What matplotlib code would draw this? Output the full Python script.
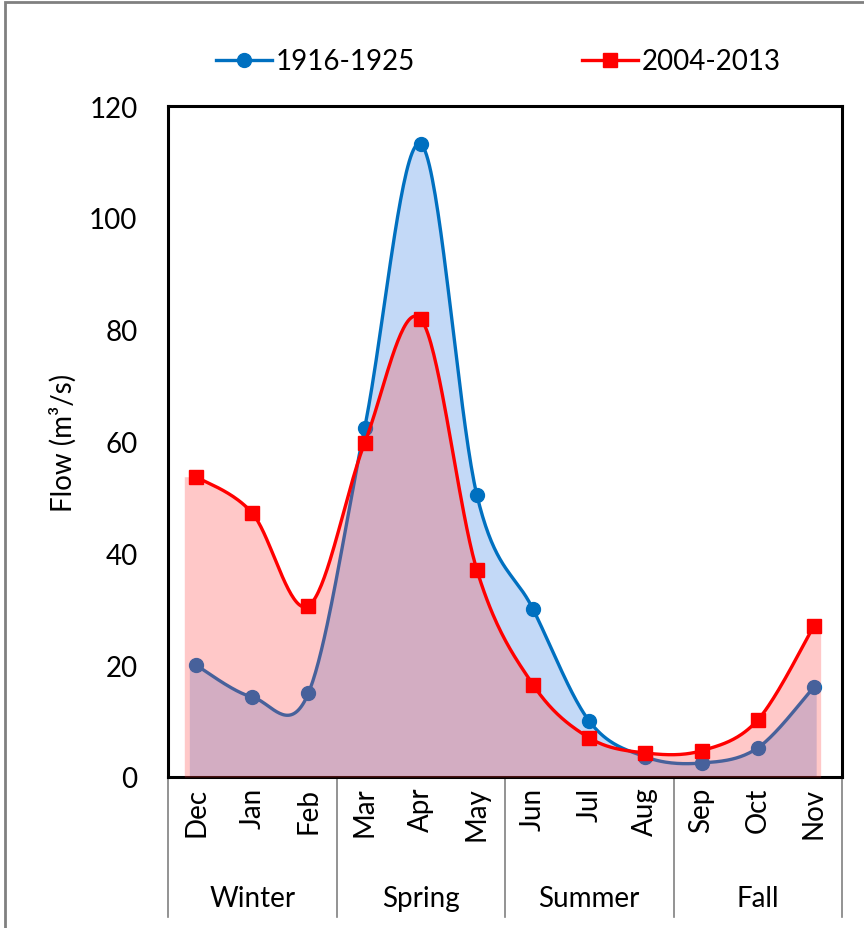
#Monthly flow, 1916-1925 vs 2004-2013
import numpy as np
import matplotlib
matplotlib.use("Agg")
import matplotlib.pyplot as plt
from matplotlib.patches import Rectangle
import matplotlib.transforms as mtransforms

plt.rcParams['font.family'] = ['Lato', 'DejaVu Sans']

months = ["Dec", "Jan", "Feb", "Mar", "Apr", "May", "Jun", "Jul", "Aug", "Sep", "Oct", "Nov"]
seasons = ["Winter", "Spring", "Summer", "Fall"]
flow_1916 = [20.0, 14.3, 15.0, 62.4, 113.2, 50.4, 30.0, 10.0, 3.6, 2.5, 5.2, 16.1]
flow_2004 = [53.7, 47.2, 30.6, 59.7, 81.9, 37.0, 16.5, 7.0, 4.3, 4.7, 10.2, 27.0]


def smooth(x, y, n=40):
    # excel style smoothed line (catmull-rom bezier)
    x = np.asarray(x, float)
    y = np.asarray(y, float)
    px = np.concatenate([[x[0]], x, [x[-1]]])
    py = np.concatenate([[y[0]], y, [y[-1]]])
    xs, ys = [], []
    t = np.linspace(0, 1, n)
    for i in range(1, len(px) - 2):
        p0 = np.array([px[i], py[i]])
        p3 = np.array([px[i + 1], py[i + 1]])
        c1 = p0 + (p3 - np.array([px[i - 1], py[i - 1]])) / 6
        c2 = p3 - (np.array([px[i + 2], py[i + 2]]) - p0) / 6
        pts = ((1 - t) ** 3)[:, None] * p0 + (3 * (1 - t) ** 2 * t)[:, None] * c1 \
            + (3 * (1 - t) * t ** 2)[:, None] * c2 + (t ** 3)[:, None] * p3
        xs.extend(pts[:, 0])
        ys.extend(pts[:, 1])
    return np.array(xs), np.array(ys)


x = np.arange(len(months))
sx1, sy1 = smooth(x, flow_1916)
sx2, sy2 = smooth(x, flow_2004)

fig = plt.figure(figsize=(8.64, 9.29), dpi=100)
fig.patches.append(Rectangle((5 / 864, -0.1), 1.2, 1.1 - 3 / 929, transform=fig.transFigure,
                             fill=False, edgecolor='#808080', linewidth=2))

ax = fig.add_axes([168 / 864, 1 - 778 / 929, 674 / 864, 671 / 929])

blue = '#0070C0'
red = '#FF0000'

# blue area, slightly past the end points
bx = np.concatenate([[-0.12], sx1, [11.04]])
by = np.concatenate([[sy1[0]], sy1, [sy1[-1]]])
ax.fill_between(bx, 0, by, color='#C3D9F7', linewidth=0, zorder=1)
ax.plot(sx1, sy1, color=blue, linewidth=2.4, zorder=2)
ax.plot(x, flow_1916, 'o', color=blue, markersize=10, zorder=2)

# red area drawn over the blue one
rx = np.concatenate([[-0.21], sx2, [11.12]])
ry = np.concatenate([[sy2[0]], sy2, [sy2[-1]]])
ax.fill_between(rx, 0, ry, color=(1.0, 0.24, 0.24), alpha=0.283, linewidth=0, zorder=3)
ax.plot(sx2, sy2, color=red, linewidth=2.4, zorder=4)
ax.plot(x, flow_2004, 's', color=red, markersize=10, zorder=4)

# legend handles
ax.plot([], [], '-o', color=blue, linewidth=2.4, markersize=10, label='1916-1925')
ax.plot([], [], '-s', color=red, linewidth=2.4, markersize=10, label='2004-2013')
fig.legend(loc='center', bbox_to_anchor=(0.577, 0.933), ncol=2, frameon=False,
           fontsize=20, handlelength=2.0, handletextpad=0.15, columnspacing=6.0)

ax.set_xlim(-0.5, 11.5)
ax.set_ylim(0, 120)
ax.set_yticks(range(0, 121, 20))
ax.tick_params(axis='y', length=0, pad=22, labelsize=20)
ax.set_xticks(x)
ax.set_xticklabels(months, rotation=90, fontsize=20)
ax.tick_params(axis='x', length=0, pad=7)
for s in ax.spines.values():
    s.set_linewidth(2.2)
ax.set_ylabel('Flow (m³/s)', fontsize=20, labelpad=9)

# multi level category axis
trans = mtransforms.blended_transform_factory(ax.transData, ax.transAxes)
for b in [-0.5, 2.5, 5.5, 8.5, 11.5]:
    ax.plot([b, b], [0, -0.209], color='#808080', linewidth=1.2, transform=trans, clip_on=False)
for i, s in enumerate(seasons):
    ax.text(3 * i + 1, -0.18, s, transform=trans, ha='center', va='center', fontsize=20)

fig.savefig('out.png', dpi=100)
